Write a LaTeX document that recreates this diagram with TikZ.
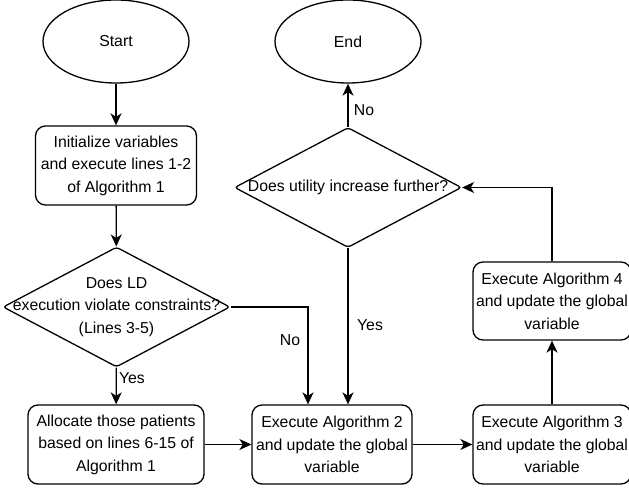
\documentclass[tikz,border=0pt]{standalone}
\usepackage{fontspec}
\setmainfont{Liberation Sans}
\usetikzlibrary{shapes.geometric,arrows.meta}

\begin{document}
\begin{tikzpicture}[x=1pt,y=-1pt,
  every node/.style={font=\fontsize{15.8}{22.5}\selectfont},
  line/.style={line width=1.3pt},
  arrow/.style={line, -{Stealth[length=12pt,width=11pt,inset=3.5pt]}},
  terminal/.style={draw, line width=1.3pt, ellipse, minimum width=146pt, minimum height=83pt, inner sep=0pt},
  procbox/.style={draw, line width=1.3pt, rectangle, rounded corners=10pt, align=center, inner sep=0pt},
  decision/.style={draw, line width=1.3pt, diamond, rounded corners=3pt, minimum width=227pt, minimum height=120pt, inner sep=0pt},
  lbl/.style={inner sep=0pt}
]
\useasboundingbox (0,0) rectangle (629,490);

% terminals
\node[terminal] (start) at (116,41.5) {Start};
\node[terminal] (end)   at (348,41.5) {End};

% process steps
\node[procbox, minimum width=161pt, minimum height=79pt] (init) at (116,165.5)
  {Initialize variables\\and execute lines 1-2\\of Algorithm 1};
\node[procbox, minimum width=176pt, minimum height=79pt] (alloc) at (116,444.5)
  {Allocate those patients\\based on lines 6-15 of\\Algorithm 1};
\node[procbox, minimum width=160pt, minimum height=79pt] (algo2) at (332,444.5)
  {Execute Algorithm 2\\and update the global\\variable};
\node[procbox, minimum width=158pt, minimum height=79pt] (algo3) at (552,444.5)
  {Execute Algorithm 3\\and update the global\\variable};
\node[procbox, minimum width=158pt, minimum height=78pt] (algo4) at (552,301)
  {Execute Algorithm 4\\and update the global\\variable};

% decisions
\node[decision] (d1) at (116.5,307) {};
\node[align=center] at (d1) {Does LD\\execution violate constraints?\\(Lines 3-5)};
\node[decision] (d2) at (348,187.5) {};
\node at (d2) {Does utility increase further?};

% connectors
\draw[arrow, line width=1.8pt] (start) -- (init);
\draw[arrow] (init) -- (d1);
\draw[arrow] (d1) -- (alloc);
\draw[arrow] (d1.east) -| ([xshift=-24pt]algo2.north);
\draw[arrow] (d2.south) -- (d2.south |- algo2.north);
\draw[arrow] (alloc) -- (algo2);
\draw[arrow] (algo2) -- (algo3);
\draw[arrow] (algo3) -- (algo4);
\draw[arrow] (algo4.north) |- (d2.east);
\draw[arrow] (d2) -- (end);

% branch labels
\node[lbl] (yesl) at (132,378) {Yes};
\node[lbl] (nol)  at (290,340) {No};
\node[lbl] (yesr) at (370,325) {Yes};
\node[lbl] (noe)  at (364,110) {No};
\end{tikzpicture}
\end{document}
